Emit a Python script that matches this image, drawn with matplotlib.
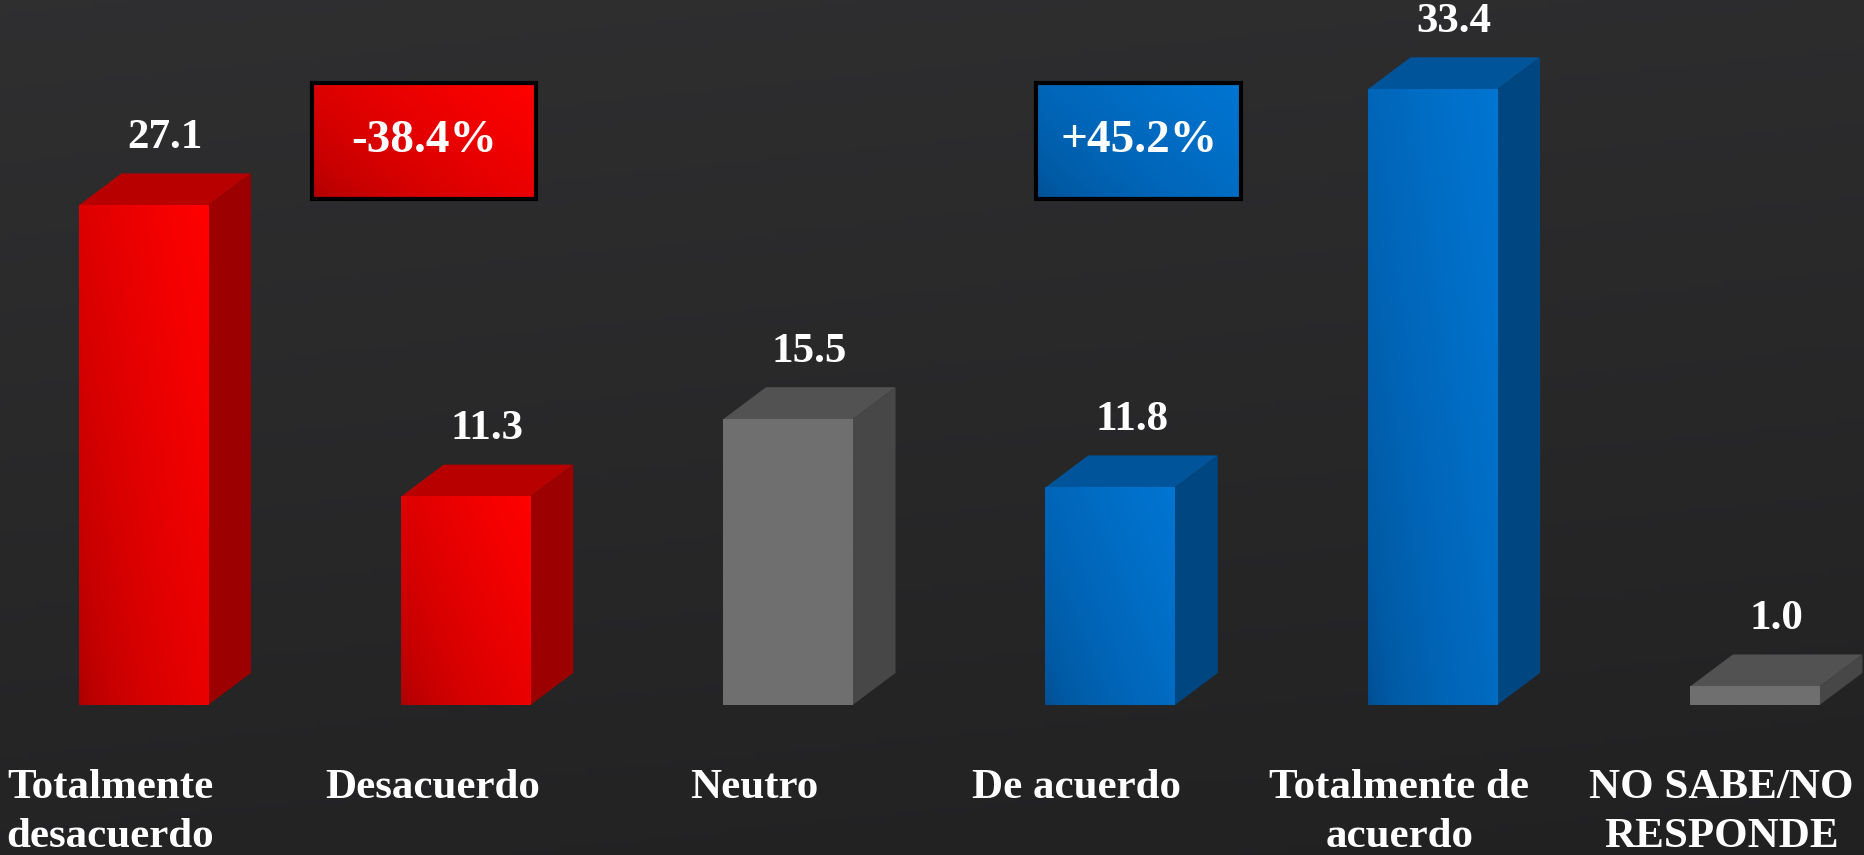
"""
3D-style bar chart on a dark background
"""

import numpy as np
import matplotlib
matplotlib.use("Agg")
import matplotlib.pyplot as plt
import matplotlib.colors as mc
from matplotlib.patches import Polygon, Rectangle

# data
categories = ["Totalmente\ndesacuerdo", "Desacuerdo", "Neutro",
              "De acuerdo", "Totalmente de\nacuerdo", "NO SABE/NO\nRESPONDE"]
values = [27.1, 11.3, 15.5, 11.8, 33.4, 1.0]
groups = ["red", "red", "gray", "blue", "blue", "gray"]
summary_labels = ["-38.4%", "+45.2%"]
summary_groups = ["red", "blue"]

# colours: (front dark, front light, top, side)
palette = {
    "red": ("#a80000", "#ff0000", "#b80000", "#9c0000"),
    "blue": ("#004e90", "#0075d2", "#00559a", "#004680"),
    "gray": ("#6f6f6f", "#6f6f6f", "#525252", "#474747"),
}

font = "Liberation Serif"
bar_w = 0.402
dx, dy = 0.133, 1.74

fig = plt.figure(figsize=(18.65, 8.55), dpi=100)
ax = fig.add_axes([0, 0, 1, 1])
ax.set_xlim(-0.4447, 5.342)
ax.set_ylim(-8.14, 38.25)
ax.axis("off")

# background: dark charcoal, a bit lighter at the top
yy, xx = np.mgrid[0:1:200j, 0:1:200j]
bg = 0.13 + 0.045 * yy + 0.01 * (1 - xx)
ax.imshow(np.dstack([bg, bg, bg * 1.03]), extent=(-0.4447, 5.342, -8.14, 38.25),
          origin="lower", aspect="auto", zorder=0)


def gradient_rect(x0, x1, y0, y1, c_dark, c_light, z):
    gy, gx = np.mgrid[0:1:60j, 0:1:60j]
    t = np.clip(0.6 * gx + 0.4 * gy, 0, 1) ** 0.55
    cmap = mc.LinearSegmentedColormap.from_list("g", [c_dark, c_light])
    ax.imshow(cmap(t), extent=(x0, x1, y0, y1), origin="lower",
              aspect="auto", zorder=z, interpolation="bilinear")


for i, (v, g) in enumerate(zip(values, groups)):
    c_dark, c_light, c_top, c_side = palette[g]
    x0, x1 = i - bar_w / 2, i + bar_w / 2
    # top face
    ax.add_patch(Polygon([(x0, v), (x1, v), (x1 + dx, v + dy), (x0 + dx, v + dy)],
                         closed=True, facecolor=c_top, edgecolor="none", zorder=3))
    # side face
    ax.add_patch(Polygon([(x1, 0), (x1 + dx, dy), (x1 + dx, v + dy), (x1, v)],
                         closed=True, facecolor=c_side, edgecolor="none", zorder=3))
    # front face
    gradient_rect(x0, x1, 0, v, c_dark, c_light, 4)
    ax.text(i + dx / 2, v + dy + 0.9, "{0:.1f}".format(v), ha="center", va="bottom",
            color="white", fontsize=31, fontweight="bold", family=font, zorder=5)
    ax.text(i - 0.103, -3.45, categories[i], ha="center", va="top",
            color="white", fontsize=31, fontweight="bold", family=font,
            linespacing=1.38, zorder=5)

# summary boxes
box_pos = [(0.523, 1.218), (2.77, 3.406)]
for (bx0, bx1), lab, g in zip(box_pos, summary_labels, summary_groups):
    c_dark, c_light = palette[g][0], palette[g][1]
    gradient_rect(bx0, bx1, 27.46, 33.75, c_dark, c_light, 4)
    ax.add_patch(Rectangle((bx0, 27.46), bx1 - bx0, 33.75 - 27.46, fill=False,
                           edgecolor="black", linewidth=3, zorder=5))
    ax.text((bx0 + bx1) / 2, (27.46 + 33.75) / 2, lab, ha="center", va="center",
            color="white", fontsize=34, fontweight="bold", family=font, zorder=6)

plt.savefig("out.png", dpi=100)
